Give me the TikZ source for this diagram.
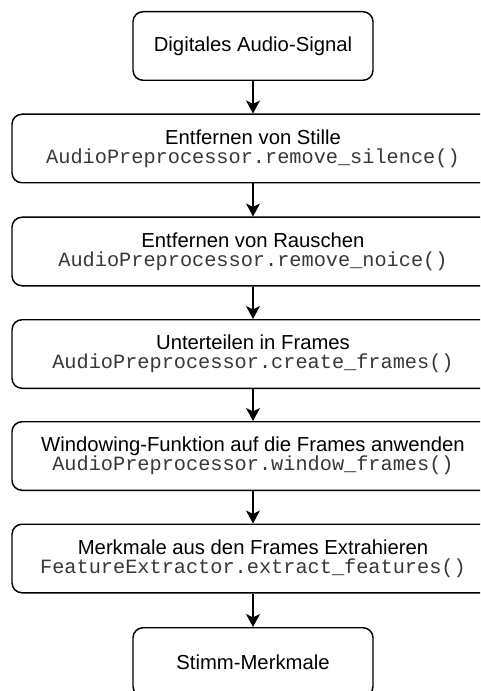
\documentclass[tikz,border=0pt]{standalone}
\usepackage{fontspec}
\setmainfont{Liberation Sans}
\newfontfamily\codefont{Liberation Mono}
\usetikzlibrary{arrows.meta}

\tikzset{
  box/.style={draw=black, line width=1.1pt, rounded corners=7.5pt, fill=white,
    inner sep=0pt, align=center, minimum height=51.4pt,
    font=\fontsize{15.2}{14.3}\selectfont},
  narrowbox/.style={box, minimum width=180pt},
  widebox/.style={box, minimum width=361.5pt},
  flow/.style={line width=1.1pt, -{Stealth[length=9.8pt,width=10.5pt,inset=2.6pt]}}
}
% method names in a thin monospaced face
\newcommand{\code}[1]{{\codefont\fontsize{15.2}{14.3}\selectfont\color{black!78}#1}}

\begin{document}
\begin{tikzpicture}[x=0.75pt,y=-0.75pt]
  \clip (0,0) rectangle (480,691);
  \fill[white] (0,0) rectangle (480,691);

  \node[narrowbox] (signal) at (253,46) {Digitales Audio-Signal};
  \node[widebox] (silence) at (253,148.5)
    {Entfernen von Stille\\\code{AudioPreprocessor.remove\_silence()}};
  \node[widebox] (noise) at (253,251.5)
    {Entfernen von Rauschen\\\code{AudioPreprocessor.remove\_noice()}};
  \node[widebox] (frames) at (253,354)
    {Unterteilen in Frames\\\code{AudioPreprocessor.create\_frames()}};
  \node[widebox] (window) at (253,456)
    {Windowing-Funktion auf die Frames anwenden\\\code{AudioPreprocessor.window\_frames()}};
  \node[widebox] (extract) at (253,558.5)
    {Merkmale aus den Frames Extrahieren\\\code{FeatureExtractor.extract\_features()}};
  \node[narrowbox] (features) at (253,662) {Stimm-Merkmale};

  \draw[flow] (signal) -- (silence);
  \draw[flow] (silence) -- (noise);
  \draw[flow] (noise) -- (frames);
  \draw[flow] (frames) -- (window);
  \draw[flow] (window) -- (extract);
  \draw[flow] (extract) -- (features);
\end{tikzpicture}
\end{document}
